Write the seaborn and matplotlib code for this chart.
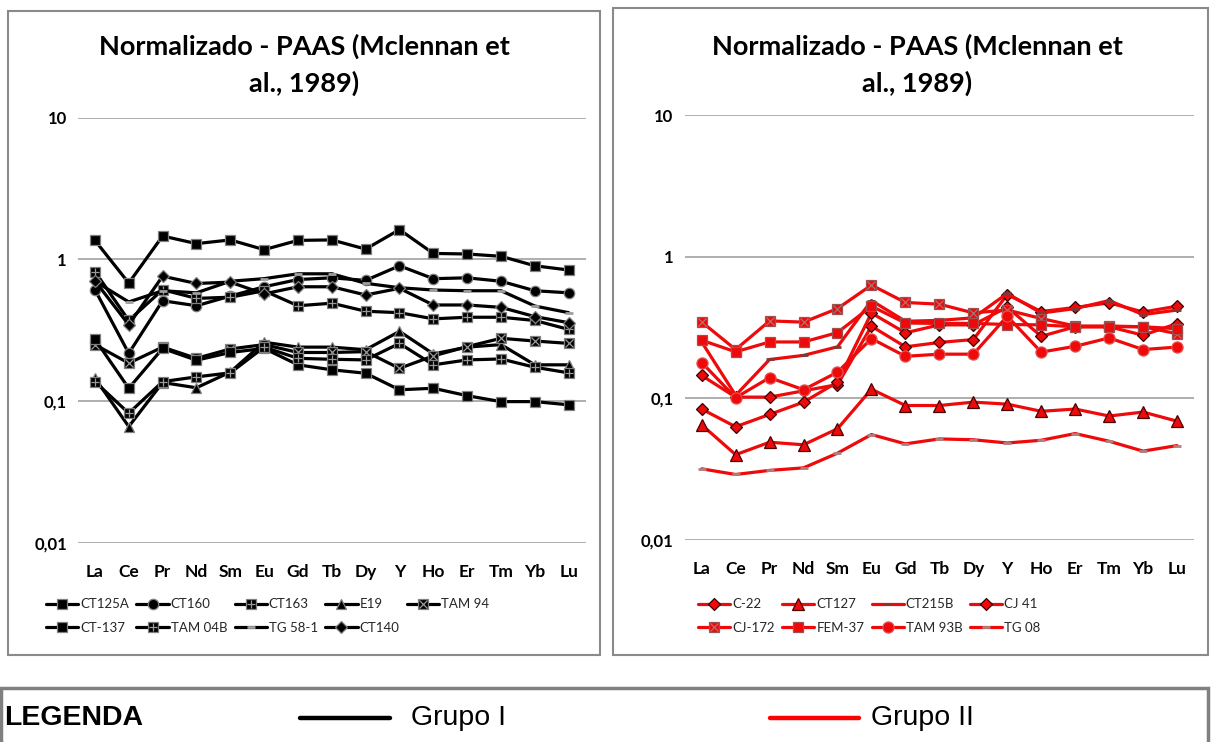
import numpy as np
import pandas as pd
import matplotlib
matplotlib.use("Agg")
import matplotlib.pyplot as plt
import seaborn as sns
from matplotlib.patches import Rectangle
from matplotlib.lines import Line2D
from matplotlib.legend_handler import HandlerTuple

# ---------------------------------------------------------------- data
elements = ["La", "Ce", "Pr", "Nd", "Sm", "Eu", "Gd", "Tb", "Dy", "Y", "Ho", "Er", "Tm", "Yb", "Lu"]
y_ticks = [0.01, 0.1, 1, 10]
y_ticklabels = ["0,01", "0,1", "1", "10"]

# Grupo I (PAAS-normalised)
ct125a = [1.36, 0.68, 1.46, 1.29, 1.37, 1.17, 1.36, 1.37, 1.18, 1.62, 1.10, 1.09, 1.05, 0.90, 0.84]
ct160 = [0.61, 0.217, 0.51, 0.47, 0.55, 0.64, 0.72, 0.74, 0.71, 0.90, 0.73, 0.74, 0.70, 0.60, 0.58]
ct163 = [0.82, 0.37, 0.61, 0.53, 0.54, 0.60, 0.47, 0.49, 0.43, 0.42, 0.38, 0.39, 0.39, 0.37, 0.32]
e19 = [0.145, 0.066, 0.135, 0.124, 0.16, 0.26, 0.24, 0.24, 0.23, 0.31, 0.215, 0.24, 0.25, 0.18, 0.18]
tam94 = [0.25, 0.185, 0.24, 0.20, 0.233, 0.25, 0.22, 0.22, 0.223, 0.17, 0.208, 0.242, 0.277, 0.265, 0.255]
ct137 = [0.273, 0.123, 0.235, 0.194, 0.22, 0.235, 0.18, 0.166, 0.157, 0.12, 0.123, 0.109, 0.099, 0.099, 0.094]
tam04b = [0.137, 0.082, 0.137, 0.148, 0.158, 0.24, 0.20, 0.197, 0.195, 0.255, 0.18, 0.195, 0.198, 0.173, 0.158]
tg581 = [0.70, 0.50, 0.60, 0.58, 0.70, 0.73, 0.79, 0.79, 0.677, 0.63, 0.607, 0.60, 0.60, 0.468, 0.42]
ct140 = [0.705, 0.345, 0.76, 0.675, 0.69, 0.57, 0.64, 0.64, 0.56, 0.624, 0.476, 0.476, 0.458, 0.394, 0.357]

# Grupo II (PAAS-normalised)
c22 = [0.145, 0.102, 0.102, 0.113, 0.125, 0.323, 0.231, 0.248, 0.26, 0.54, 0.41, 0.438, 0.472, 0.407, 0.447]
ct127 = [0.065, 0.040, 0.049, 0.047, 0.061, 0.116, 0.089, 0.089, 0.094, 0.091, 0.081, 0.084, 0.075, 0.080, 0.069]
ct215b = [0.25, 0.105, 0.188, 0.201, 0.231, 0.49, 0.35, 0.355, 0.37, 0.55, 0.40, 0.43, 0.49, 0.39, 0.42]
cj41 = [0.084, 0.063, 0.077, 0.094, 0.13, 0.40, 0.29, 0.33, 0.33, 0.44, 0.274, 0.32, 0.32, 0.279, 0.337]
cj172 = [0.346, 0.221, 0.352, 0.345, 0.43, 0.63, 0.475, 0.462, 0.401, 0.42, 0.366, 0.324, 0.324, 0.32, 0.286]
fem37 = [0.257, 0.213, 0.25, 0.25, 0.291, 0.447, 0.34, 0.338, 0.338, 0.332, 0.33, 0.32, 0.32, 0.32, 0.31]
tam93b = [0.179, 0.101, 0.14, 0.115, 0.153, 0.264, 0.198, 0.205, 0.205, 0.38, 0.212, 0.233, 0.267, 0.221, 0.23]
tg08 = [0.0318, 0.029, 0.031, 0.0323, 0.041, 0.0555, 0.0477, 0.0517, 0.051, 0.0484, 0.0506, 0.0564, 0.0498, 0.0424, 0.0464]

group1_names = ["CT125A", "CT160", "CT163", "E19", "TAM 94", "CT-137", "TAM 04B", "TG 58-1", "CT140"]
group1_values = [ct125a, ct160, ct163, e19, tam94, ct137, tam04b, tg581, ct140]
group2_names = ["C-22", "CT127", "CT215B", "CJ 41", "CJ-172", "FEM-37", "TAM 93B", "TG 08"]
group2_values = [c22, ct127, ct215b, cj41, cj172, fem37, tam93b, tg08]


def long_table(names, values):
    frames = [pd.DataFrame({"elemento": elements, "valor": v, "amostra": n}) for n, v in zip(names, values)]
    return pd.concat(frames, ignore_index=True)


df1 = long_table(group1_names, group1_values)
df2 = long_table(group2_names, group2_values)

# ---------------------------------------------------------------- styles
BLACK = "#000000"
RED = "#EE0A0A"
GREY_EDGE = "#808080"

# marker, size, edge colour, inner mark drawn on top (or None)
style1 = {
    "CT125A": ("s", 7.5, GREY_EDGE, None),
    "CT160": ("o", 7.5, GREY_EDGE, None),
    "CT163": ("s", 7.5, GREY_EDGE, "+"),
    "E19": ("^", 7.5, GREY_EDGE, None),
    "TAM 94": ("s", 7.5, GREY_EDGE, "x"),
    "CT-137": ("s", 7.5, GREY_EDGE, None),
    "TAM 04B": ("s", 7.5, GREY_EDGE, "+"),
    "TG 58-1": ("_", 6.0, "#a0a0a0", None),
    "CT140": ("D", 6.5, GREY_EDGE, None),
}
style2 = {
    "C-22": ("D", 6.5, "#3a0000", None),
    "CT127": ("^", 8.0, "#4a0000", None),
    "CT215B": ("_", 6.0, "#7a3a3a", None),
    "CJ 41": ("D", 6.5, "#3a0000", None),
    "CJ-172": ("s", 7.5, "#a05050", "x"),
    "FEM-37": ("s", 7.5, "#a05050", None),
    "TAM 93B": ("o", 8.0, "#e85050", None),
    "TG 08": ("_", 6.0, "#b08080", None),
}

sns.set_theme(style="white")
plt.rcParams["font.family"] = ["Lato", "DejaVu Sans"]

W, H = 1211, 742
fig = plt.figure(figsize=(W / 100, H / 100), dpi=100)
fig.patch.set_facecolor("white")


def fx(px):
    return px / W


def fy(py):
    return 1 - py / H


def draw_group(ax, df, names, styles, color, inner_color):
    handles = []
    for name in names:
        sub = df[df["amostra"] == name]
        marker, ms, mec, inner = styles[name]
        mew = 2.0 if marker == "_" else 0.9
        sns.lineplot(data=sub, x="elemento", y="valor", ax=ax, sort=False,
                     color=color, lw=2.3, marker=marker, markersize=ms,
                     markerfacecolor=color, markeredgecolor=mec, markeredgewidth=mew,
                     label=name)
        main = ax.lines[-1]
        if inner is not None:
            sns.lineplot(data=sub, x="elemento", y="valor", ax=ax, sort=False,
                         color=inner_color, lw=0, linestyle="", marker=inner,
                         markersize=5.5, markeredgewidth=0.9, markeredgecolor=inner_color,
                         label="_nolegend_")
            handles.append((main, ax.lines[-1]))
        else:
            handles.append(main)
    return handles


def style_axis(ax):
    ax.set_yscale("log")
    ax.set_ylim(0.01, 10)
    ax.set_xlim(-0.5, len(elements) - 0.5)
    ax.set_yticks(y_ticks)
    ax.set_yticklabels(y_ticklabels)
    ax.yaxis.set_minor_locator(matplotlib.ticker.NullLocator())
    ax.grid(False)
    ax.yaxis.grid(True, color="#a8a8a8", lw=1.3)
    ax.set_axisbelow(True)
    for s in ax.spines.values():
        s.set_visible(False)
    ax.tick_params(axis="both", length=0)
    ax.tick_params(axis="x", pad=15, labelsize=12.5)
    ax.tick_params(axis="y", pad=8, labelsize=12)
    for lab in ax.get_xticklabels() + ax.get_yticklabels():
        lab.set_fontweight("bold")
        lab.set_color("black")
    ax.set_xlabel("")
    ax.set_ylabel("")
    ax.set_facecolor("white")
    if ax.get_legend() is not None:
        ax.get_legend().remove()


def row_major(items, ncol):
    # legend columns are filled top to bottom; reorder so entries read across rows
    nrow = int(np.ceil(len(items) / ncol))
    rows = [items[i * ncol:(i + 1) * ncol] for i in range(nrow)]
    out = []
    for c in range(ncol):
        for r in rows:
            if c < len(r):
                out.append(r[c])
    return out


# panel frames
fig.patches.append(Rectangle((fx(8), fy(655)), fx(600) - fx(8), fy(11) - fy(655),
                             transform=fig.transFigure, fill=False, ec="#8a8a8a", lw=1.5))
fig.patches.append(Rectangle((fx(613), fy(655)), fx(1208) - fx(613), fy(8) - fy(655),
                             transform=fig.transFigure, fill=False, ec="#8a8a8a", lw=1.5))

axL = fig.add_axes([fx(78), fy(542.7), (585.6 - 78) / W, (542.7 - 117.6) / H])
axR = fig.add_axes([fx(684.7), fy(540), (1194 - 684.7) / W, (540 - 115) / H])

h1 = draw_group(axL, df1, group1_names, style1, BLACK, "#9a9a9a")
h2 = draw_group(axR, df2, group2_names, style2, RED, "#b07070")
style_axis(axL)
style_axis(axR)

# chart titles
for cx in (304, 917):
    fig.text(fx(cx), fy(46), "Normalizado - PAAS (Mclennan et", ha="center", va="center",
             fontsize=19.5, fontweight="bold", color="black")
    fig.text(fx(cx), fy(83), "al., 1989)", ha="center", va="center",
             fontsize=19.5, fontweight="bold", color="black")

# series legends inside each panel
leg_kw = dict(frameon=False, fontsize=9.5, handlelength=2.45, handletextpad=0.15,
              columnspacing=0.55, labelspacing=0.85, borderpad=0, borderaxespad=0,
              handler_map={tuple: HandlerTuple(ndivide=1, pad=0)},
              loc="center left", bbox_transform=fig.transFigure)
fig.legend(row_major(h1, 5), row_major(group1_names, 5), ncol=5,
           bbox_to_anchor=(fx(46), fy(616)), **leg_kw)
fig.legend(row_major(h2, 4), row_major(group2_names, 4), ncol=4,
           bbox_to_anchor=(fx(698), fy(616)), **leg_kw)

# group key along the bottom
fig.patches.append(Rectangle((fx(1), fy(760)), fx(1208) - fx(1), fy(688) - fy(760),
                             transform=fig.transFigure, fill=False, ec="#808080", lw=2.5))
key_font = ["Liberation Sans", "DejaVu Sans"]
fig.text(fx(4), fy(718), "LEGENDA", ha="left", va="center", fontsize=20.5,
         fontweight="bold", family=key_font, color="black")
fig.add_artist(Line2D([fx(300), fx(390)], [fy(718), fy(718)], transform=fig.transFigure,
                      color="black", lw=3.2))
fig.text(fx(411), fy(718), "Grupo I", ha="left", va="center", fontsize=20.5,
         family=key_font, color="black")
fig.add_artist(Line2D([fx(770), fx(859)], [fy(718), fy(718)], transform=fig.transFigure,
                      color="#FF0000", lw=3.2))
fig.text(fx(871), fy(718), "Grupo II", ha="left", va="center", fontsize=20.5,
         family=key_font, color="black")

fig.savefig("out.png", dpi=100, facecolor="white")
